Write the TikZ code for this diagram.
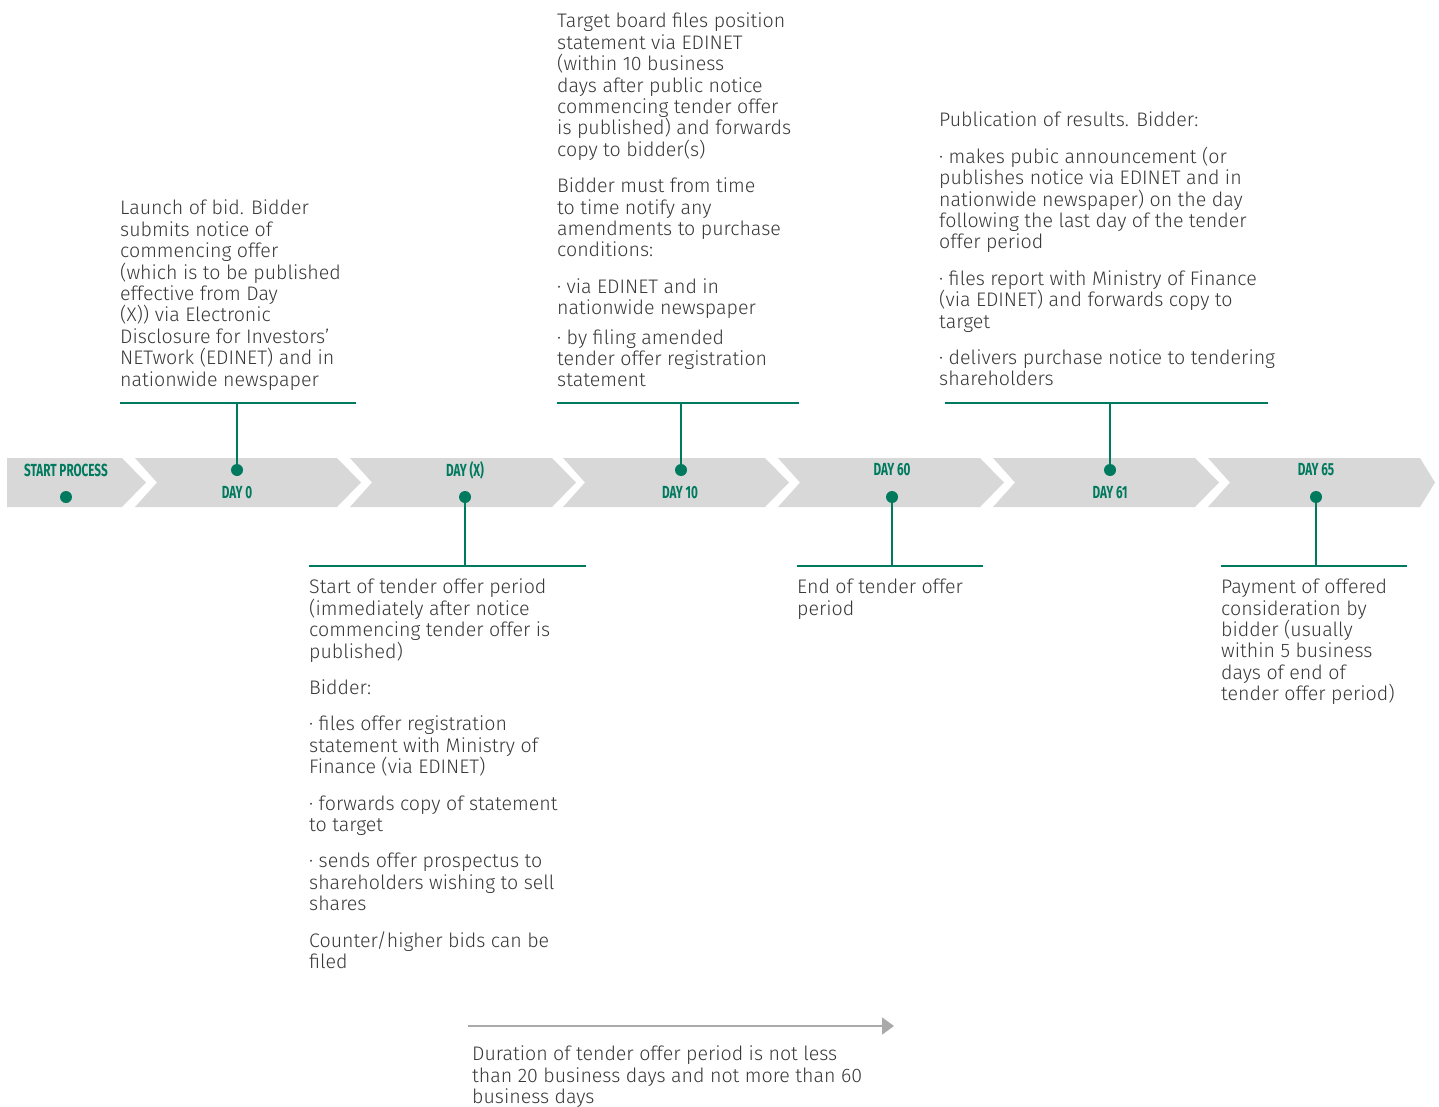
\documentclass[tikz,border=0pt]{standalone}
\usepackage{fontspec}
\usetikzlibrary{arrows.meta}
\newfontfamily\bodyfont{Fira Sans Light}
\newfontfamily\labfont[FakeStretch=0.67]{Fira Sans Bold}
\definecolor{teal1}{HTML}{007A5E}
\definecolor{bandgray}{HTML}{D8D8D8}
\definecolor{txt}{HTML}{383838}
\definecolor{arrgray}{HTML}{AAAAAA}
\begin{document}
\begin{tikzpicture}[x=1pt,y=-1pt,
  band/.style={fill=bandgray, draw=none},
  dot/.style={circle, fill=teal1, inner sep=0pt, minimum size=12pt},
  lab/.style={text=teal1, font=\labfont\fontsize{17.5}{17.5}\selectfont, inner sep=0pt},
  body/.style={text=txt, font=\bodyfont\fontsize{19.6}{21.4}\selectfont, align=left, anchor=north west, inner sep=0pt},
  lead/.style={draw=teal1, line width=2pt},
  rule/.style={draw=teal1, line width=2.5pt}]
\useasboundingbox (0,0) rectangle (1439,1107);
% chevron band
\fill[band] (7,458) -- (122,458) -- (146,482.5) -- (122,507) -- (7,507) -- cycle;
\foreach \s in {135,350,563,778,993}{
  \fill[band] (\s,458) -- (\s+202,458) -- (\s+226,482.5) -- (\s+202,507) -- (\s,507) -- (\s+22,482.5) -- cycle;
}
\fill[band] (1208,458) -- (1420,458) -- (1435,482.5) -- (1420,507) -- (1208,507) -- (1230,482.5) -- cycle;
% labels
\node[lab] (lstart) at (66,470) {START PROCESS};
\node[lab] (l0) at (237,493) {DAY 0};
\node[lab] (lx) at (465,470) {DAY (X)};
\node[lab] (l10) at (680,493) {DAY 10};
\node[lab] (l60) at (892,470) {DAY 60};
\node[lab] (l61) at (1110,493) {DAY 61};
\node[lab] (l65) at (1316,470) {DAY 65};
% rules
\coordinate (ra1) at (120,403); \coordinate (ra2) at (356,403);
\coordinate (rb1) at (557,403); \coordinate (rb2) at (799,403);
\coordinate (rc1) at (945,403); \coordinate (rc2) at (1268,403);
\coordinate (rd1) at (309,566); \coordinate (rd2) at (586,566);
\coordinate (re1) at (797,566); \coordinate (re2) at (983,566);
\coordinate (rf1) at (1221,566); \coordinate (rf2) at (1407,566);
\foreach \r in {a,b,c,d,e,f}{ \draw[rule] (r\r1) -- (r\r2); }
% dots
\node[dot] (dstart) at (66,497) {};
\node[dot] (d0) at (237,470) {};
\node[dot] (dx) at (465,497) {};
\node[dot] (d10) at (681,470) {};
\node[dot] (d60) at (892,497) {};
\node[dot] (d61) at (1110,470) {};
\node[dot] (d65) at (1316,497) {};
% leaders
\draw[lead] (d0.center) -- (d0.center |- ra1);
\draw[lead] (d10.center) -- (d10.center |- rb1);
\draw[lead] (d61.center) -- (d61.center |- rc1);
\draw[lead] (dx.center) -- (dx.center |- rd1);
\draw[lead] (d60.center) -- (d60.center |- re1);
\draw[lead] (d65.center) -- (d65.center |- rf1);
% texts
\node[body] (ta) at (120,200) {Launch of bid. Bidder\\submits notice of\\commencing offer\\(which is to be published\\effective from Day\\(X)) via Electronic\\Disclosure for Investors’\\NETwork (EDINET) and in\\nationwide newspaper};
\node[body] (tb) at (557,13) {Target board files position\\statement via EDINET\\(within 10 business\\days after public notice\\commencing tender offer\\is published) and forwards\\copy to bidder(s)\\[15pt]Bidder must from time\\to time notify any\\amendments to purchase\\conditions:\\[15pt]· via EDINET and in\\nationwide newspaper\\[8pt]· by filing amended\\tender offer registration\\statement};
\node[body] (tc) at (939,112) {Publication of results. Bidder:\\[15pt]· makes pubic announcement (or\\publishes notice via EDINET and in\\nationwide newspaper) on the day\\following the last day of the tender\\offer period\\[15pt]· files report with Ministry of Finance\\(via EDINET) and forwards copy to\\target\\[15pt]· delivers purchase notice to tendering\\shareholders};
\node[body] (td) at (309,579) {Start of tender offer period\\(immediately after notice\\commencing tender offer is\\published)\\[15pt]Bidder:\\[15pt]· files offer registration\\statement with Ministry of\\Finance (via EDINET)\\[15pt]· forwards copy of statement\\to target\\[15pt]· sends offer prospectus to\\shareholders wishing to sell\\shares\\[15pt]Counter/higher bids can be\\filed};
\node[body] (te) at (797,579) {End of tender offer\\period};
\node[body] (tf) at (1221,579) {Payment of offered\\consideration by\\bidder (usually\\within 5 business\\days of end of\\tender offer period)};
% duration arrow
\coordinate (ga) at (468,1026); \coordinate (gb) at (894,1026);
\draw[draw=arrgray, line width=2pt, -{Triangle[length=12pt,width=17pt]}] (ga) -- (gb);
\node[body] (tg) at (472,1046) {Duration of tender offer period is not less\\than 20 business days and not more than 60\\business days};
\end{tikzpicture}
\end{document}
